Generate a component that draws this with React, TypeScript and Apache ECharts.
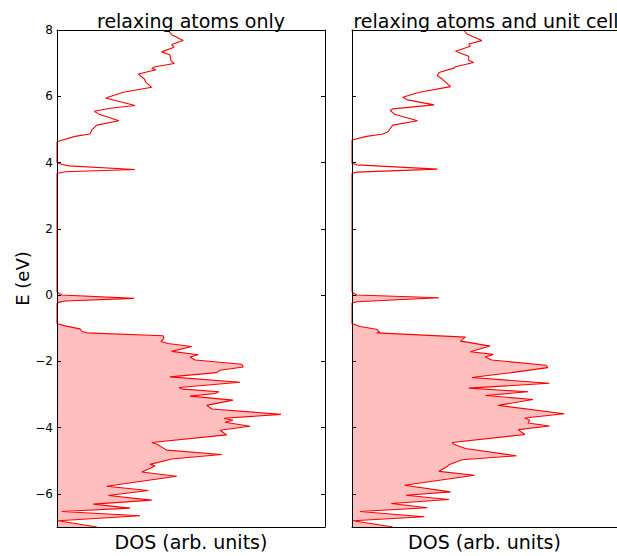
import React, { useEffect, useRef } from "react";
import * as echarts from "echarts";

// Left panel: "relaxing atoms only" (energy in eV, DOS in arbitrary units)
const eAtoms = [
  8.0, 7.86, 7.68, 7.56, 7.48, 7.34, 7.25, 7.07, 6.99, 6.89, 6.84, 6.8, 6.67, 6.52, 6.42, 6.27, 6.12, 5.95,
  5.89, 5.72, 5.64, 5.55, 5.46, 5.26, 5.13, 4.98, 4.86, 4.79, 4.63, 4.0, 3.94, 3.9, 3.79, 3.72, 3.67,
  0.1, 0.05, 0.0, -0.1, -0.18, -0.22, -0.26, -0.86, -0.93, -1.02, -1.1, -1.14, -1.23, -1.3, -1.4, -1.46,
  -1.55, -1.7, -1.8, -1.87, -1.96, -2.09, -2.17, -2.27, -2.34, -2.47, -2.63, -2.79, -2.84, -2.92, -2.97,
  -3.05, -3.17, -3.33, -3.44, -3.6, -3.72, -3.78, -3.84, -3.96, -4.08, -4.22, -4.45, -4.5, -4.68, -4.81,
  -4.95, -5.11, -5.15, -5.22, -5.34, -5.47, -5.77, -5.9, -6.05, -6.19, -6.31, -6.43, -6.53, -6.66, -6.81, -7.0,
];
const dosAtoms = [
  111, 114.7, 126.3, 114.7, 117, 104.7, 113, 114, 117.3, 98, 94.7, 99, 81.3, 87.3, 89, 94.7, 66.3, 48.7,
  56.3, 78, 53, 37.3, 42, 62, 39.7, 34.7, 33, 18, 0, 0, 5, 12, 78, 8, 0,
  0, 2, 5, 77, 8, 1.5, 0, 0, 8, 23, 25, 30, 106, 107, 104, 111,
  134.7, 114.7, 141.3, 133, 138, 184.7, 186.3, 163, 159.7, 113, 183, 122, 126, 162, 158,
  133, 176, 149.7, 155, 224, 167, 176, 168, 193, 163, 169.7, 94.7, 100, 109.7, 164.7,
  114.7, 93, 98, 94, 84.7, 119.7, 49.7, 91.3, 51.3, 94.7, 36.3, 73, 4.7, 83, 1.3, 40,
];

// Right panel: "relaxing atoms and unit cell"
const eCell = [
  8.0, 7.88, 7.68, 7.58, 7.51, 7.36, 7.21, 7.09, 7.02, 6.89, 6.85, 6.72, 6.62, 6.52, 6.29, 6.12, 5.97, 5.89,
  5.74, 5.62, 5.57, 5.46, 5.26, 5.13, 4.93, 4.86, 4.79, 4.68, 3.98, 3.93, 3.8, 3.71, 3.67,
  0.1, 0.05, 0.0, -0.08, -0.2, -0.24, -0.86, -0.95, -1.03, -1.12, -1.14, -1.27, -1.39, -1.42, -1.54,
  -1.71, -1.79, -1.87, -1.96, -2.12, -2.19, -2.34, -2.49, -2.66, -2.81, -2.92, -3.03, -3.15, -3.33,
  -3.58, -3.71, -3.78, -3.86, -3.95, -4.06, -4.21, -4.45, -4.5, -4.63, -4.85, -4.97, -5.12, -5.16,
  -5.32, -5.44, -5.74, -5.94, -6.04, -6.17, -6.29, -6.42, -6.53, -6.69, -6.81, -7.0,
];
const dosCell = [
  113, 116.3, 131.3, 118, 119.7, 104.7, 118, 118, 123, 104.7, 103, 88, 86.3, 91.3, 99.7, 68, 51.3, 56.3,
  83, 41.3, 38.7, 43, 66.3, 41.3, 36.3, 31.3, 14.7, 0, 0, 5, 86.3, 5, 0,
  0, 2, 5, 88, 5, 0, 0, 8, 24.7, 28, 25, 114.7, 109.7, 116.3, 139.7,
  119.7, 143, 134.7, 141.3, 196.3, 198, 161.3, 121.3, 199.7, 118, 178, 135, 183, 148,
  214.7, 174.7, 179.7, 178, 199.7, 168, 174.7, 101.3, 103, 114.7, 166.3, 111.3, 98, 97,
  88, 124, 53, 99.7, 54.7, 98, 39.7, 76.3, 8, 73, 1.3, 41.3,
];

const titles = ["relaxing atoms only", "relaxing atoms and unit cell"];
const yTicks = [-6, -4, -2, 0, 2, 4, 6, 8];
const E_MIN = -7;
const E_MAX = 8;
const DOS_MAX = 268;
const E_FERMI = 0.05;

const FONT = "DejaVu Sans";

function pairs(e: number[], d: number[]) {
  return e.map((v, i) => [d[i], v]);
}

function fillPolygon(e: number[], d: number[]) {
  const pts: number[][] = [[0, E_FERMI]];
  e.forEach((v, i) => {
    if (v <= E_FERMI) pts.push([d[i], v]);
  });
  pts.push([0, E_MIN]);
  return pts;
}

export default function App() {
  const ref = useRef<HTMLDivElement>(null);

  useEffect(() => {
    if (!ref.current) return;
    document.body.style.margin = "0";
    document.body.style.overflow = "hidden";
    const chart = echarts.init(ref.current, undefined, { renderer: "svg" });
    const panels = [
      { e: eAtoms, d: dosAtoms },
      { e: eCell, d: dosCell },
    ];
    const gridLefts = [57, 352];
    const axisLine = { show: true, onZero: false, lineStyle: { color: "#000", width: 1 } };

    const xAxis: any[] = [];
    const yAxis: any[] = [];
    panels.forEach((_, g) => {
      xAxis.push({
        type: "value",
        gridIndex: g,
        position: "bottom",
        min: 0,
        max: DOS_MAX,
        name: "DOS (arb. units)",
        nameLocation: "middle",
        nameGap: 5,
        nameTextStyle: { fontFamily: FONT, fontSize: 19, color: "#000" },
        axisLine,
        axisTick: { show: false },
        axisLabel: { show: false },
        splitLine: { show: false },
        z: 5,
      });
      xAxis.push({
        type: "value",
        gridIndex: g,
        position: "top",
        min: 0,
        max: DOS_MAX,
        axisLine,
        axisTick: { show: false },
        axisLabel: { show: false },
        splitLine: { show: false },
        z: 5,
      });
      yAxis.push({
        type: "value",
        gridIndex: g,
        position: "left",
        min: E_MIN,
        max: E_MAX,
        name: g === 0 ? "E (eV)" : "",
        nameLocation: "middle",
        nameGap: 24,
        nameTextStyle: { fontFamily: FONT, fontSize: 18, color: "#000" },
        axisLine,
        axisTick: { show: true, inside: true, length: 4, customValues: yTicks, lineStyle: { color: "#000" } },
        axisLabel: {
          show: g === 0,
          customValues: yTicks,
          margin: 4,
          fontFamily: FONT,
          fontSize: 12,
          color: "#000",
          formatter: (v: number) => String(v).replace("-", "\u2212"),
        },
        splitLine: { show: false },
        z: 5,
      });
      yAxis.push({
        type: "value",
        gridIndex: g,
        position: "right",
        min: E_MIN,
        max: E_MAX,
        axisLine,
        axisTick: { show: g === 0, inside: true, length: 4, customValues: yTicks, lineStyle: { color: "#000" } },
        axisLabel: { show: false },
        splitLine: { show: false },
        z: 5,
      });
    });

    const series: any[] = [];
    panels.forEach((p, g) => {
      const poly = fillPolygon(p.e, p.d);
      series.push({
        type: "custom",
        xAxisIndex: g * 2,
        yAxisIndex: g * 2,
        data: [[0, 0]],
        silent: true,
        z: 1,
        renderItem: (_params: any, api: any) => ({
          type: "polygon",
          shape: { points: poly.map((pt) => api.coord(pt)) },
          style: { fill: "#ffbfbf", stroke: "none" },
        }),
      });
      series.push({
        type: "line",
        xAxisIndex: g * 2,
        yAxisIndex: g * 2,
        data: pairs(p.e, p.d),
        symbol: "none",
        smooth: false,
        z: 2,
        lineStyle: { color: "#ff0000", width: 1.1 },
        silent: true,
      });
    });

    chart.setOption({
      animation: false,
      backgroundColor: "#fff",
      title: titles.map((t, i) => ({
        text: t,
        left: gridLefts[i] + 134,
        top: 11,
        textAlign: "center",
        padding: 0,
        textStyle: { fontFamily: FONT, fontSize: 19, fontWeight: "normal", color: "#000" },
      })),
      grid: gridLefts.map((l) => ({ left: l, top: 30, width: DOS_MAX, height: 503, containLabel: false })),
      xAxis,
      yAxis,
      series,
    });
    return () => chart.dispose();
  }, []);

  return (
    <div style={{ position: "absolute", left: 0, top: 0, width: 617, height: 556, overflow: "hidden" }}>
      <div ref={ref} style={{ width: 617, height: 556, background: "#fff" }} />
    </div>
  );
}
